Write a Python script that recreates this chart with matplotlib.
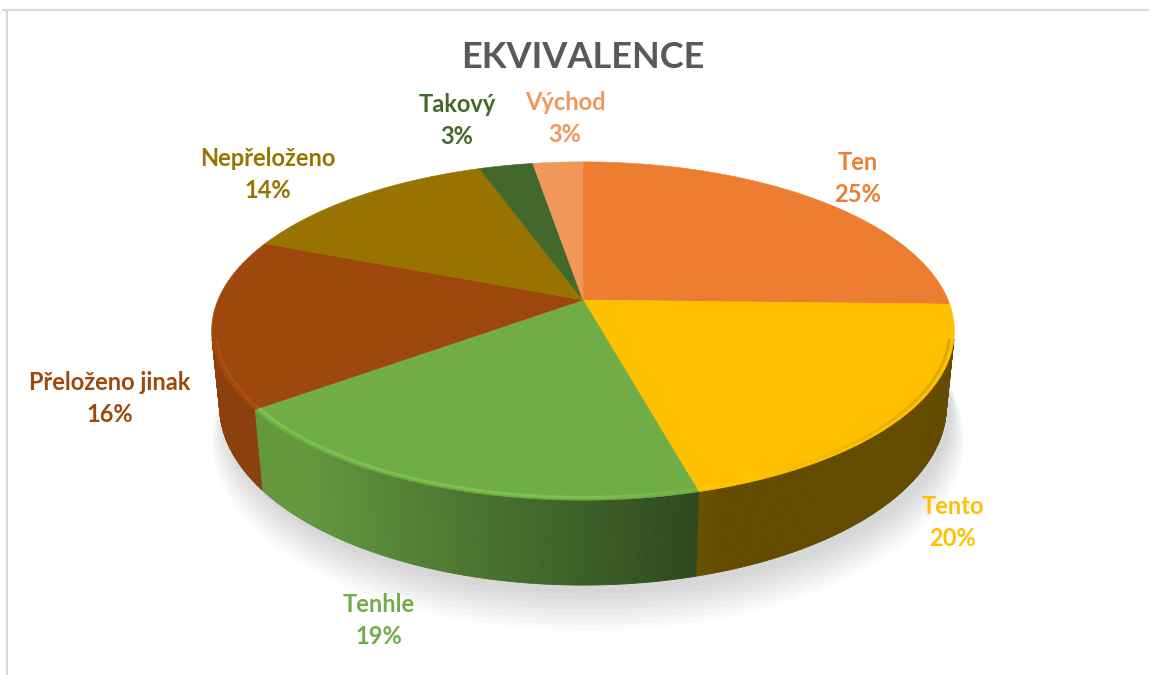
import numpy as np
import matplotlib
matplotlib.use("Agg")
import matplotlib.pyplot as plt
from matplotlib.collections import PolyCollection
from matplotlib.colors import to_rgb

# data (percent shares)
names = ["Ten", "Tento", "Tenhle", "Přeloženo jinak", "Nepřeloženo", "Takový", "Východ"]
values = [25.4, 20.4, 19.0, 16.2, 13.6, 2.8, 2.6]
colors = ["#ED7D31", "#FFC000", "#70AD47", "#9E480E", "#997300", "#43682B", "#F1975A"]

# label centres in pixels (layout)
label_pos = [(858, 178), (953, 523), (379, 620), (110, 398), (268, 175), (457, 121), (565, 118)]

W, H = 1149, 675
cx, cy = 583, 300          # pie centre on screen
elev = np.radians(26.6)     # tilt of the pie
dist = 4.876               # camera distance (radius = 1)
focal = 1780.0
thick = 0.231              # pie height


def project(theta, r=1.0, z=0.0):
    # theta in degrees, clockwise from the back (12 o'clock)
    t = np.radians(theta)
    X = r * np.sin(t)
    Y = r * np.cos(t)
    depth = dist + Y * np.cos(elev) - z * np.sin(elev)
    up = Y * np.sin(elev) + z * np.cos(elev)
    return cx + focal * X / depth, cy - focal * up / depth


def shade(col, f):
    return tuple(np.clip(np.array(to_rgb(col)) * f, 0, 1))


fig = plt.figure(figsize=(W / 100, H / 100), dpi=100)
ax = fig.add_axes([0, 0, 1, 1])
ax.set_xlim(0, W)
ax.set_ylim(H, 0)
ax.axis("off")

# chart frame
ax.plot([7, 7], [10, H + 5], color="#D9D9D9", lw=1.5)
ax.plot([3, W + 5], [10, 10], color="#D9D9D9", lw=1.5)

total = sum(values)
bounds = np.concatenate([[0], np.cumsum(values) / total * 360])

# soft shadow under the pie
for k in range(8):
    th = np.linspace(0, 360, 361)
    sx, sy = project(th, 1.0 + 0.006 * k, -thick - 0.02 - 0.01 * k)
    ax.fill(sx + 5, sy + 2, color="#000000", alpha=0.018, lw=0, zorder=1)

# visible part of the outer wall
yv = -1 / (dist * np.cos(elev))
vis_lo = np.degrees(np.arccos(yv))
vis_hi = 360 - vis_lo

walls = []
wall_cols = []
for i in range(len(values)):
    a1 = max(bounds[i], vis_lo)
    a2 = min(bounds[i + 1], vis_hi)
    if a2 <= a1:
        continue
    th = np.linspace(a1, a2, max(int((a2 - a1) * 2), 2) + 1)
    for j in range(len(th) - 1):
        x1, y1 = project(th[j])
        x2, y2 = project(th[j + 1])
        x3, y3 = project(th[j + 1], z=-thick)
        x4, y4 = project(th[j], z=-thick)
        walls.append([(x1, y1), (x2, y2), (x3, y3), (x4, y4)])
        X = np.sin(np.radians((th[j] + th[j + 1]) / 2))
        wall_cols.append(shade(colors[i], np.clip(0.55 - 0.5 * X, 0.39, 0.88)))

pc = PolyCollection(walls, facecolors=wall_cols, edgecolors=wall_cols, linewidths=0.6, zorder=2)
ax.add_collection(pc)

# top faces
for i in range(len(values)):
    th = np.linspace(bounds[i], bounds[i + 1], max(int(bounds[i + 1] - bounds[i]), 2) + 1)
    px, py = project(th)
    ax.fill(np.concatenate([[cx], px]), np.concatenate([[cy], py]),
            color=colors[i], lw=0.4, ec=colors[i], zorder=3)
    # bevel along the front rim: light on the left, darker on the right
    a1 = max(bounds[i], vis_lo)
    a2 = min(bounds[i + 1], vis_hi)
    if a2 > a1:
        th = np.linspace(a1, a2, 80)
        hx, hy = project(th, r=0.988)
        for j in range(len(th) - 1):
            X = np.sin(np.radians(th[j]))
            f = 1.22 - 0.5 * max(X, 0)
            ax.plot(hx[j:j + 2], hy[j:j + 2], color=shade(colors[i], f), lw=2.0,
                    alpha=0.55, solid_capstyle="butt", zorder=4)

# labels
font = ["Lato", "DejaVu Sans"]
for i in range(len(values)):
    lx, ly = label_pos[i]
    pct = f"{values[i] / total * 100:.0f}%"
    ax.text(lx, ly - 16, names[i], ha="center", va="center", fontsize=17,
            fontweight="bold", color=colors[i], family=font, zorder=5)
    ax.text(lx, ly + 16, pct, ha="center", va="center", fontsize=17,
            fontweight="bold", color=colors[i], family=font, zorder=5)

ax.text(583, 57, "EKVIVALENCE", ha="center", va="center", fontsize=26,
        fontweight="bold", color="#595959", family=font)

fig.savefig("out.png", dpi=100)
